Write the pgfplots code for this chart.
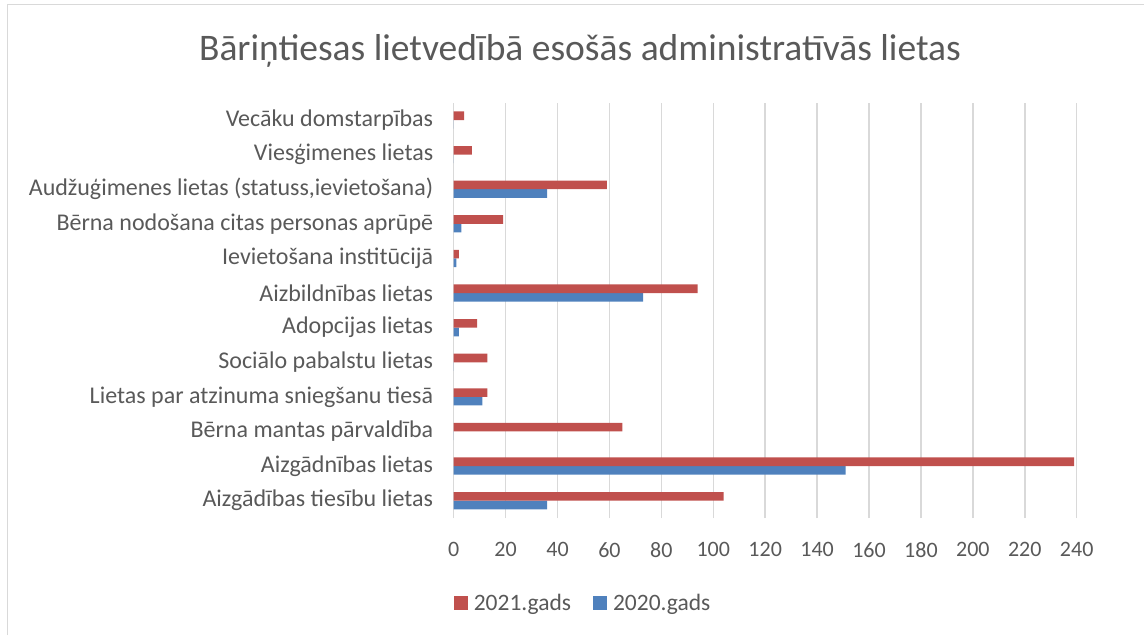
\documentclass[border=0pt]{standalone}
\usepackage{pgfplots}
\pgfplotsset{compat=1.18}
\usepackage{fontspec}
\setmainfont{Carlito}
\definecolor{cred}{HTML}{C0504D}
\definecolor{cblue}{HTML}{4F81BD}
\definecolor{ctext}{HTML}{595959}
\definecolor{cgrid}{HTML}{D9D9D9}
\begin{document}
\begin{tikzpicture}[x=1pt,y=1pt]
\path[use as bounding box] (0,0) rectangle (1144,-635);
\draw[cgrid,line width=1.5pt] (7.5,-635) -- (7.5,-4.5) -- (1144,-4.5);
\node[text=ctext,font=\fontsize{37.5}{40}\selectfont,anchor=base] at (580,-60) {Bāriņtiesas lietvedībā esošās administratīvās lietas};
\begin{axis}[
  at={(453.7pt,-518pt)}, anchor=south west,
  scale only axis, width=623pt, height=415.3pt,
  xbar, bar width=8.6pt,
  xmin=0, xmax=240, ymin=-0.5, ymax=11.5,
  xtick={0,20,...,240},
  ytick={0,...,11},
  yticklabels={Aizgādības tiesību lietas,Aizgādnības lietas,Bērna mantas pārvaldība,Lietas par atzinuma sniegšanu tiesā,Sociālo pabalstu lietas,Adopcijas lietas,Aizbildnības lietas,Ievietošana institūcijā,Bērna nodošana citas personas aprūpē,{Audžuģimenes lietas (statuss,ievietošana)},Viesģimenes lietas,Vecāku domstarpības},
  axis line style={draw=none},
  major tick length=0pt,
  xmajorgrids, grid style={cgrid,line width=1.5pt},
  tick label style={text=ctext},
  /pgf/number format/assume math mode=true,
  xticklabel style={font=\fontsize{22}{24}\selectfont, yshift=-21pt},
  yticklabel style={font=\fontsize{24}{26}\selectfont, xshift=-17pt},
  legend style={at={(0.2076,-0.2047)}, anchor=center, draw=none, font=\fontsize{23.5}{25}\selectfont, text=ctext, legend columns=2, /tikz/every odd column/.append style={column sep=4pt}, /tikz/every even column/.append style={column sep=20pt}},
  legend image code/.code={\fill[#1] (0pt,-7pt) rectangle (14pt,7pt);},
]
\addlegendimage{fill=cred,draw=none}
\addlegendentry{2021.gads}
\addlegendimage{fill=cblue,draw=none}
\addlegendentry{2020.gads}
\addplot[fill=cblue,draw=none,bar shift=-4.3pt,forget plot] coordinates {
(36,0) (151,1) (0,2) (11,3) (0,4) (2,5) (73,6) (1,7) (3,8) (36,9) (0,10) (0,11)};
\addplot[fill=cred,draw=none,bar shift=4.3pt,forget plot] coordinates {
(104,0) (239,1) (65,2) (13,3) (13,4) (9,5) (94,6) (2,7) (19,8) (59,9) (7,10) (4,11)};
\end{axis}
\end{tikzpicture}
\end{document}
